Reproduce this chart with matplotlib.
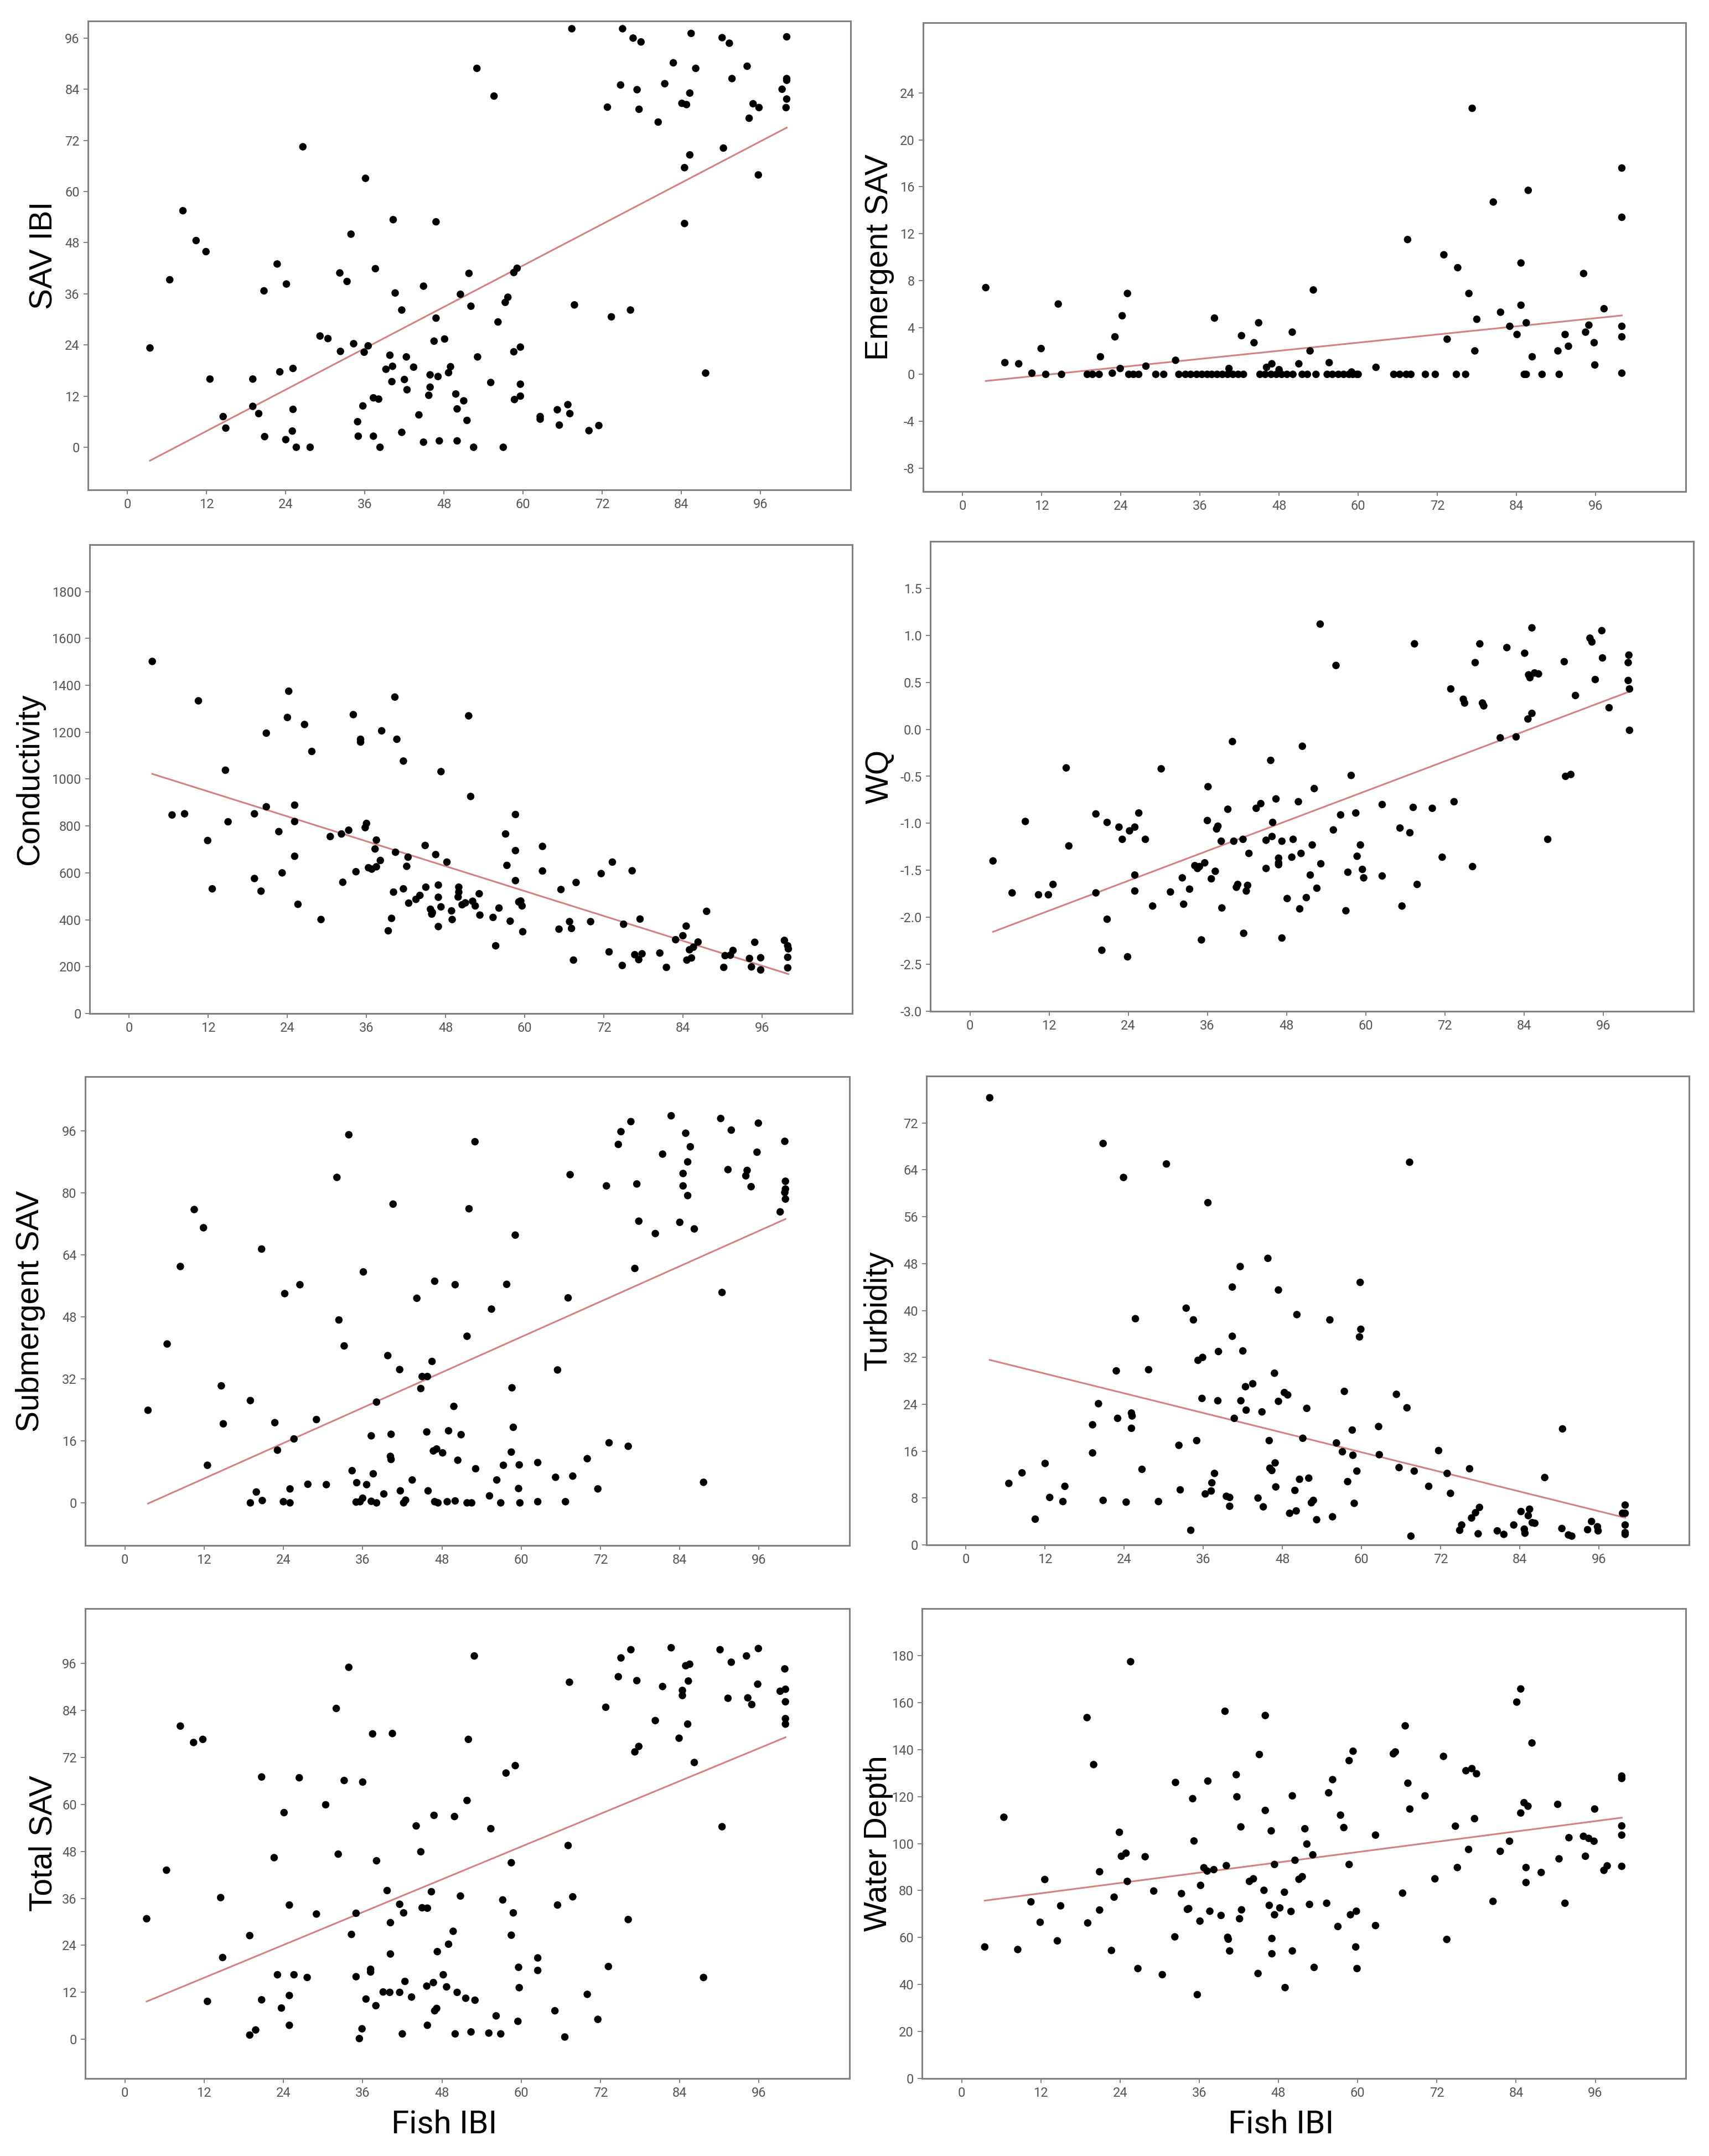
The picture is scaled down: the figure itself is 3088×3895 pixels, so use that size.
import numpy as np
import matplotlib
matplotlib.use("Agg")
import matplotlib.pyplot as plt
from matplotlib import font_manager

# ---- data (x = Fish IBI for every panel) ----
sav_ibi_x = [67.4, 75.1, 76.7, 77.9, 85.5, 90.2, 91.3, 100, 82.8, 86.2,
             94.0, 53.0, 91.7, 100, 100, 74.8, 81.5, 77.3, 85.3, 55.6,
             99.3, 100, 72.8, 77.6, 84.1, 84.8, 94.9, 95.8, 99.9, 80.5,
             94.3, 26.6, 90.4, 85.3, 84.5, 95.7, 36.1, 8.4, 40.3, 46.8,
             84.5, 33.9, 10.4, 11.9, 22.7, 32.2, 37.6, 51.8, 59.1, 58.6,
             6.4, 33.3, 24.1, 44.9, 20.7, 40.6, 50.5, 57.7, 57.3, 41.6,
             52.1, 67.8, 76.3, 73.4, 46.8, 56.2, 29.2, 30.4, 48.1, 46.5,
             34.3, 36.5, 59.6, 3.4, 32.3, 35.9, 58.6, 39.8, 42.3, 53.1,
             43.4, 40.2, 39.2, 25.1, 23.1, 49.0, 48.7, 45.9, 47.1, 87.7,
             12.5, 19.0, 42.0, 40.1, 55.1, 59.6, 45.9, 42.4, 45.7, 49.8,
             59.6, 58.7, 51.0, 37.3, 38.1, 35.7, 19.0, 25.1, 50.0, 66.8,
             65.2, 19.9, 67.1, 62.6, 62.6, 44.2, 14.5, 34.9, 51.5, 14.9,
             65.5, 71.5, 70.0, 25.0, 41.6, 20.8, 35.0, 37.3, 24.0, 44.9,
             47.3, 50.0, 25.6, 27.7, 38.3, 52.5, 57.0]
sav_ibi_y = [98.2, 98.2, 96, 95.1, 97.1, 96.1, 94.8, 96.3, 90.2, 88.9,
             89.4, 88.9, 86.5, 86.5, 86.1, 85.0, 85.3, 83.9, 83.1, 82.4,
             84.0, 81.7, 79.8, 79.3, 80.7, 80.4, 80.6, 79.7, 79.7, 76.3,
             77.2, 70.5, 70.2, 68.6, 65.6, 63.9, 63.1, 55.5, 53.4, 52.9,
             52.5, 50.0, 48.5, 45.9, 43.0, 40.9, 41.9, 40.8, 42.0, 41.0,
             39.3, 38.9, 38.3, 37.8, 36.7, 36.2, 35.9, 35.2, 34.0, 32.2,
             33.1, 33.4, 32.2, 30.6, 30.3, 29.4, 26.1, 25.5, 25.4, 24.9,
             24.3, 23.8, 23.5, 23.3, 22.5, 22.3, 22.4, 21.6, 21.2, 21.2,
             18.8, 19.0, 18.3, 18.5, 17.7, 18.9, 17.5, 17.0, 16.6, 17.4,
             16.0, 16.0, 15.9, 15.4, 15.2, 14.8, 14.1, 13.5, 12.2, 12.5,
             12.0, 11.2, 10.9, 11.6, 11.3, 9.7, 9.6, 8.9, 9.0, 10.0,
             8.8, 7.9, 7.9, 7.2, 6.6, 7.6, 7.2, 6.0, 6.3, 4.5,
             5.2, 5.1, 3.9, 3.8, 3.5, 2.5, 2.6, 2.6, 1.8, 1.2,
             1.5, 1.5, 0, 0, 0, 0, 0]

emergent_x = [3.5, 6.4, 8.5, 10.5, 11.9, 12.6, 14.5, 15.0, 18.9, 19.7,
              20.7, 20.9, 22.7, 23.1, 23.9, 24.2, 25.0, 25.2, 25.9, 26.7,
              27.8, 29.3, 30.5, 32.3, 32.8, 33.8, 34.6, 35.5, 36.3, 37.1,
              37.8, 38.6, 39.4, 40.2, 41.0, 41.8, 42.6, 38.2, 40.4, 42.3,
              44.2, 44.9, 45.1, 45.9, 46.8, 47.6, 48.4, 49.2, 50.1, 46.1,
              46.9, 48.0, 50.0, 51.0, 52.7, 53.2, 51.5, 52.3, 53.6, 55.6,
              55.3, 56.1, 57.0, 57.8, 58.6, 59.2, 59.8, 60.0, 59.0, 62.7,
              65.4, 66.3, 67.3, 68.0, 67.5, 70.2, 71.7, 73.0, 73.5, 74.9,
              76.3, 75.1, 76.8, 77.3, 77.7, 78.0, 80.5, 81.6, 83.0, 84.1,
              84.7, 84.7, 85.2, 85.5, 85.5, 85.8, 86.4, 87.9, 90.3, 90.5,
              91.4, 91.9, 94.2, 94.5, 95.0, 95.8, 95.9, 97.3, 100, 100,
              100, 100, 100]
emergent_y = [7.4, 1.0, 0.9, 0.1, 2.2, 0, 6.0, 0, 0, 0,
              0, 1.5, 0.1, 3.2, 0.5, 5.0, 6.9, 0, 0, 0,
              0.7, 0, 0, 1.2, 0, 0, 0, 0, 0, 0,
              0, 0, 0, 0, 0, 0, 0, 4.8, 0.5, 3.3,
              2.7, 4.4, 0, 0, 0, 0, 0, 0, 0, 0.6,
              0.9, 0.4, 3.6, 0.9, 2.0, 7.2, 0, 0, 0, 1.0,
              0, 0, 0, 0, 0, 0, 0, 0, 0.2, 0.6,
              0, 0, 0, 0, 11.5, 0, 0, 10.2, 3.0, 0,
              0, 9.1, 6.9, 22.7, 2.0, 4.7, 14.7, 5.3, 4.1, 3.4,
              9.5, 5.9, 0, 0, 4.4, 15.7, 1.5, 0, 2.0, 0,
              3.4, 2.4, 8.6, 3.6, 4.2, 2.7, 0.8, 5.6, 17.6, 13.4,
              4.1, 3.2, 0.1]

cond_x = [3.5, 6.5, 8.4, 10.5, 11.9, 12.6, 14.6, 15.0, 19.0, 19.0,
          20.0, 20.8, 20.8, 22.7, 23.2, 24.0, 24.2, 25.1, 25.1, 25.1,
          25.6, 26.6, 27.7, 29.1, 30.5, 32.2, 33.3, 32.4, 34.0, 34.4,
          35.1, 35.1, 35.8, 36.0, 36.3, 36.8, 37.5, 37.3, 37.5, 38.3,
          38.1, 39.3, 39.8, 40.1, 40.3, 40.4, 40.6, 41.6, 41.6, 42.1,
          42.3, 42.4, 43.5, 44.1, 44.9, 45.0, 45.7, 45.9, 46.0, 46.5,
          46.9, 46.9, 46.9, 47.3, 47.3, 48.2, 48.9, 49.0, 50.0, 50.0,
          49.9, 50.5, 51.0, 51.5, 51.8, 52.1, 52.5, 53.1, 53.2, 55.2,
          55.6, 56.1, 57.1, 57.3, 57.8, 58.6, 58.6, 58.6, 59.1, 59.4,
          59.6, 59.7, 62.7, 62.7, 65.2, 65.5, 66.8, 67.1, 67.4, 67.8,
          70.0, 71.6, 72.8, 73.3, 74.8, 75.0, 76.3, 76.7, 77.3, 77.5,
          77.8, 80.5, 81.5, 82.9, 84.0, 84.5, 84.6, 85.0, 85.3, 85.6,
          86.3, 87.6, 90.2, 90.4, 91.2, 91.6, 94.1, 94.4, 94.9, 95.8,
          95.8, 99.4, 99.9, 100, 99.9, 99.9]
cond_y = [1502, 847, 852, 1334, 738, 532, 1038, 818, 852, 576,
          522, 1196, 882, 776, 600, 1263, 1375, 889, 819, 671,
          466, 1233, 1118, 401, 755, 766, 782, 560, 1275, 605,
          1170, 1158, 793, 811, 622, 616, 740, 702, 626, 1206,
          653, 353, 406, 518, 1350, 688, 1170, 1077, 532, 628,
          667, 471, 487, 504, 717, 539, 445, 424, 431, 678,
          548, 496, 371, 455, 1032, 646, 438, 401, 539, 518,
          497, 464, 472, 1270, 926, 479, 459, 511, 420, 410,
          289, 450, 766, 632, 394, 849, 695, 567, 476, 480,
          459, 349, 713, 608, 360, 529, 392, 363, 228, 559,
          392, 597, 263, 646, 205, 381, 609, 251, 230, 403,
          255, 258, 197, 315, 332, 373, 228, 272, 237, 283,
          305, 436, 197, 247, 249, 269, 235, 199, 304, 238,
          186, 312, 289, 276, 240, 195]

wq_x = [3.5, 6.4, 8.4, 10.4, 11.9, 12.6, 14.6, 15.0, 19.1, 19.1,
        20.0, 20.8, 20.8, 22.6, 23.1, 23.9, 24.2, 25.0, 25.0, 25.0,
        25.6, 26.6, 27.7, 29.0, 30.4, 32.2, 32.4, 33.3, 34.1, 34.5,
        35.1, 34.8, 35.6, 36.0, 36.1, 36.6, 37.2, 37.4, 37.6, 38.2,
        38.1, 39.1, 39.8, 40.0, 40.4, 40.6, 41.4, 41.5, 41.9, 42.1,
        42.3, 43.4, 44.1, 44.9, 44.9, 45.6, 45.8, 45.9, 46.4, 46.8,
        46.8, 46.8, 47.3, 47.3, 48.1, 48.8, 49.0, 49.8, 50.0, 50.2,
        50.4, 51.0, 51.6, 51.9, 52.2, 52.6, 53.1, 53.2, 55.1, 55.5,
        56.2, 57.0, 57.3, 57.8, 58.5, 58.7, 59.2, 59.5, 59.7, 62.5,
        62.5, 65.2, 65.5, 66.7, 67.2, 67.4, 67.8, 70.1, 71.6, 72.9,
        73.4, 74.8, 75.0, 76.2, 76.6, 77.3, 77.7, 77.9, 80.4, 81.4,
        82.8, 84.1, 84.6, 84.7, 84.9, 85.2, 85.2, 85.6, 86.2, 87.6,
        90.1, 90.3, 91.1, 91.8, 94.0, 94.3, 94.8, 95.8, 95.9, 96.9,
        99.9, 99.8, 99.8, 100, 100]
wq_y = [-1.40, -1.74, -0.98, -1.76, -1.76, -1.65, -0.41, -1.24, -0.90, -1.74,
        -2.35, -0.99, -2.02, -1.04, -1.17, -2.42, -1.08, -1.04, -1.55, -1.72,
        -0.89, -1.17, -1.88, -0.42, -1.73, -1.58, -1.86, -1.70, -1.45, -1.48,
        -2.24, -1.46, -1.42, -0.97, -0.61, -1.59, -1.51, -1.06, -1.03, -1.90,
        -1.19, -0.85, -0.13, -1.19, -1.68, -1.65, -1.17, -2.17, -1.72, -1.66,
        -1.32, -0.84, -0.79, -1.18, -1.48, -0.33, -1.14, -0.99, -0.74, -1.37,
        -1.42, -1.44, -2.22, -1.19, -1.80, -1.36, -1.17, -0.77, -1.91, -1.32,
        -0.18, -1.79, -1.55, -1.23, -0.63, -1.69, 1.12, -1.43, -1.07, 0.68,
        -0.91, -1.93, -1.52, -0.49, -0.89, -1.35, -1.23, -1.49, -1.58, -0.80,
        -1.56, -1.05, -1.88, -1.10, -0.83, 0.91, -1.65, -0.84, -1.36, 0.43,
        -0.77, 0.32, 0.28, -1.46, 0.71, 0.91, 0.28, 0.25, -0.09, 0.87,
        -0.08, 0.81, 0.11, 0.58, 0.55, 0.17, 1.08, 0.60, 0.59, -1.17,
        0.72, -0.50, -0.48, 0.36, 0.97, 0.93, 0.53, 1.05, 0.76, 0.23,
        0.79, 0.71, 0.52, 0.43, -0.01]

subm_x = [3.5, 6.4, 8.4, 10.5, 11.9, 12.5, 14.6, 14.9, 19.0, 19.0,
          19.9, 20.7, 20.8, 22.7, 23.1, 24.0, 24.2, 25.0, 25.0, 25.6,
          26.5, 27.7, 29.0, 30.5, 32.1, 32.4, 33.2, 33.9, 34.4, 35.1,
          35.0, 35.6, 36.0, 36.1, 36.6, 37.3, 37.3, 37.6, 38.1, 38.1,
          39.2, 39.8, 40.2, 40.3, 40.3, 40.6, 41.6, 41.7, 42.2, 42.5,
          43.5, 44.2, 44.8, 45.0, 45.7, 45.8, 45.9, 46.5, 46.7, 46.9,
          46.9, 47.2, 47.4, 48.1, 48.8, 49.0, 49.8, 50.0, 50.0, 50.4,
          50.9, 51.8, 51.8, 52.1, 52.5, 53.0, 53.1, 55.2, 55.5, 56.3,
          56.9, 57.3, 57.8, 58.5, 58.6, 58.8, 59.1, 59.7, 59.6, 59.8,
          62.5, 62.5, 65.2, 65.5, 66.7, 67.1, 67.4, 67.8, 70.0, 71.6,
          72.9, 73.3, 74.7, 75.1, 76.2, 76.6, 77.2, 77.5, 77.8, 80.3,
          81.4, 82.7, 84.0, 84.5, 84.5, 84.9, 85.2, 85.2, 85.6, 86.2,
          87.6, 90.2, 90.4, 91.3, 91.8, 94.0, 94.2, 94.8, 95.7, 95.9,
          99.2, 99.9, 100, 100, 99.9, 100]
subm_y = [23.9, 41.0, 61.0, 75.7, 71.0, 9.7, 30.2, 20.4, 26.4, 0,
          2.8, 65.5, 0.6, 20.7, 13.6, 0.3, 54.0, 0, 3.6, 16.5,
          56.3, 4.8, 21.5, 4.7, 84.0, 47.2, 40.5, 95.0, 8.3, 5.2,
          0.2, 0.3, 1.2, 59.6, 4.7, 17.3, 0.4, 7.5, 26.0, 0,
          2.3, 38.0, 12.0, 11.2, 17.7, 77.1, 34.4, 3.1, 0, 0.7,
          5.9, 52.8, 29.5, 32.6, 18.3, 32.6, 3.1, 36.5, 13.4, 0.3,
          57.2, 13.9, 0, 12.9, 0.3, 18.6, 24.9, 56.3, 0.5, 11.0,
          17.6, 0, 43.0, 75.9, 0, 93.2, 8.8, 1.8, 50.0, 5.9,
          0, 9.7, 56.4, 13.1, 29.7, 19.5, 69.1, 9.8, 3.7, 0,
          10.4, 0.3, 6.6, 34.3, 0.3, 52.9, 84.7, 6.9, 11.4, 3.6,
          81.8, 15.5, 92.5, 95.8, 14.6, 98.4, 60.5, 82.3, 72.7, 69.5,
          90.0, 99.9, 72.4, 85.0, 81.8, 95.4, 79.3, 88.0, 91.9, 70.7,
          5.3, 99.2, 54.3, 86.0, 96.2, 84.4, 85.8, 81.6, 90.5, 98.0,
          75.1, 93.3, 83.0, 81.0, 80.1, 78.4]

turb_x = [3.6, 6.5, 8.5, 10.5, 12.0, 12.7, 14.7, 15.0, 19.2, 19.2,
          20.1, 20.8, 20.8, 23.0, 22.8, 23.9, 24.3, 25.1, 25.2, 25.1,
          25.7, 26.7, 27.7, 29.2, 30.4, 32.3, 32.5, 33.4, 34.1, 34.5,
          35.0, 35.2, 35.9, 35.8, 36.3, 36.7, 37.2, 37.3, 37.7, 38.3,
          38.2, 39.5, 40.0, 40.0, 40.4, 40.4, 40.7, 41.6, 41.7, 42.0,
          42.4, 42.5, 43.5, 44.3, 44.9, 45.1, 45.8, 46.0, 46.1, 46.4,
          46.8, 46.9, 47.0, 47.4, 47.4, 48.3, 48.8, 49.1, 49.9, 50.1,
          50.2, 50.6, 51.1, 51.7, 52.0, 52.4, 52.7, 53.2, 55.2, 55.6,
          56.2, 57.1, 57.4, 57.9, 58.6, 58.7, 58.9, 59.3, 59.8, 59.9,
          59.7, 62.6, 62.7, 65.3, 65.7, 66.9, 67.3, 67.5, 68.0, 70.2,
          71.7, 73.0, 73.5, 74.9, 75.2, 76.4, 76.7, 77.3, 77.7, 77.9,
          80.6, 81.6, 83.1, 84.2, 84.7, 84.8, 85.3, 85.5, 85.9, 86.3,
          87.8, 90.4, 90.5, 91.4, 91.9, 94.3, 94.9, 95.8, 95.9, 99.6,
          100, 100, 100, 100, 100]
turb_y = [76.3, 10.5, 12.3, 4.4, 13.9, 8.1, 7.4, 10.0, 15.7, 20.5,
          24.1, 68.5, 7.6, 21.6, 29.7, 62.7, 7.3, 22.5, 22.0, 19.9,
          38.6, 12.9, 29.9, 7.4, 65.0, 17.0, 9.4, 40.4, 2.5, 38.4,
          17.8, 31.5, 32.0, 25.0, 8.7, 58.4, 9.2, 10.6, 12.2, 33.0,
          24.6, 8.3, 8.1, 6.6, 44.0, 35.6, 21.6, 47.5, 24.6, 33.1,
          27.0, 23.0, 27.5, 8.0, 22.7, 6.5, 48.9, 17.8, 13.1, 12.7,
          29.3, 14.0, 9.9, 43.5, 24.5, 26.0, 25.6, 5.4, 9.3, 5.8,
          39.3, 11.2, 18.2, 23.3, 11.4, 7.2, 7.6, 4.3, 38.4, 4.8,
          17.4, 15.9, 26.2, 10.8, 19.6, 15.3, 7.1, 12.6, 44.8, 36.8,
          35.5, 20.2, 15.4, 25.7, 13.2, 23.4, 65.3, 1.5, 12.6, 10.0,
          16.1, 12.2, 8.8, 2.5, 3.4, 13.0, 4.6, 5.5, 1.9, 6.4,
          2.4, 1.8, 3.4, 5.7, 2.7, 2.0, 5.0, 6.1, 3.8, 3.7,
          11.5, 2.8, 19.8, 1.7, 1.5, 2.6, 4.0, 3.1, 2.4, 5.4,
          6.8, 5.4, 3.4, 1.8, 2.1]

total_x = [3.3, 6.3, 8.4, 10.4, 11.8, 12.5, 14.5, 14.8, 18.9, 18.9,
           19.8, 20.7, 20.7, 22.6, 23.1, 23.7, 24.1, 24.9, 24.9, 24.9,
           25.6, 26.4, 27.6, 29.0, 30.4, 32.0, 32.3, 33.2, 33.9, 34.3,
           35.0, 35.0, 35.5, 35.9, 36.0, 36.5, 37.2, 37.2, 37.5, 38.0,
           38.1, 39.1, 39.7, 40.1, 40.2, 40.2, 40.5, 41.6, 41.6, 42.0,
           42.2, 42.4, 43.4, 44.1, 44.8, 45.0, 45.7, 45.8, 45.8, 46.4,
           46.7, 46.8, 46.9, 47.2, 47.3, 48.2, 48.7, 49.0, 49.7, 49.9,
           50.0, 50.3, 50.8, 51.6, 51.8, 52.0, 52.4, 52.9, 53.0, 55.1,
           55.4, 56.2, 56.9, 57.2, 57.7, 58.5, 58.5, 58.8, 59.1, 59.5,
           59.6, 59.7, 62.5, 62.5, 65.1, 65.5, 66.6, 67.1, 67.3, 67.8,
           70.0, 71.6, 72.8, 73.2, 74.7, 75.1, 76.2, 76.6, 77.2, 77.5,
           77.8, 80.3, 81.4, 82.7, 83.9, 84.4, 84.4, 84.9, 85.2, 85.3,
           85.5, 86.2, 87.6, 90.1, 90.4, 91.3, 91.8, 94.1, 94.3, 94.9,
           95.8, 95.9, 99.2, 99.9, 100, 100, 100, 100]
total_y = [30.8, 43.2, 80.0, 75.8, 76.6, 9.7, 36.2, 20.9, 26.5, 1.1,
           2.4, 67.0, 10.1, 46.4, 16.5, 8.0, 57.9, 34.3, 11.2, 3.6,
           16.5, 66.8, 15.8, 32.0, 59.9, 84.5, 47.3, 66.1, 95.0, 26.8,
           16.0, 32.2, 0.2, 2.7, 65.7, 10.3, 17.9, 17.2, 78.0, 8.6,
           45.6, 12.1, 38.0, 12.0, 29.8, 21.8, 78.1, 34.5, 12.0, 1.4,
           32.3, 14.8, 10.8, 54.5, 47.9, 33.6, 13.6, 33.5, 3.6, 37.7,
           14.5, 57.2, 7.3, 7.9, 22.4, 16.5, 13.4, 24.3, 27.6, 56.9,
           1.4, 12.0, 36.6, 10.5, 61.0, 76.6, 1.9, 97.9, 10.0, 1.6,
           53.8, 6.0, 1.4, 35.6, 68.0, 45.1, 26.6, 32.3, 69.9, 4.6,
           18.4, 13.2, 20.8, 17.6, 7.3, 34.3, 0.6, 49.5, 91.2, 36.4,
           11.5, 5.1, 84.8, 18.6, 92.6, 97.4, 30.6, 99.5, 73.4, 91.6,
           74.8, 81.4, 90.1, 100.0, 76.9, 89.1, 87.8, 95.4, 80.5, 91.5,
           95.8, 70.7, 15.8, 99.5, 54.3, 87.1, 96.3, 97.9, 87.2, 85.5,
           90.7, 99.8, 88.9, 94.6, 89.4, 86.2, 81.9, 80.5]

depth_x = [3.5, 6.4, 8.5, 10.5, 11.9, 12.6, 14.5, 15.0, 19.0, 19.1,
           20.0, 20.9, 20.9, 22.7, 23.1, 23.9, 24.2, 24.9, 25.1, 25.6,
           26.7, 27.8, 29.1, 30.4, 32.3, 32.4, 33.3, 34.2, 34.4, 35.0,
           35.2, 35.7, 36.1, 36.2, 36.7, 37.2, 37.3, 37.6, 38.2, 39.3,
           39.9, 40.1, 40.3, 40.4, 40.6, 41.6, 41.7, 42.1, 42.3, 42.4,
           43.6, 44.2, 44.9, 45.1, 45.8, 46.0, 46.0, 46.6, 46.9, 47.0,
           47.0, 47.4, 47.4, 48.2, 48.9, 49.0, 49.9, 50.1, 50.1, 50.5,
           51.1, 51.6, 52.0, 52.3, 52.7, 53.2, 53.4, 55.3, 55.6, 56.2,
           57.0, 57.4, 57.9, 58.7, 58.7, 58.9, 59.3, 59.8, 59.7, 59.9,
           62.7, 62.7, 65.4, 65.7, 66.8, 67.2, 67.6, 67.9, 70.2, 71.7,
           73.0, 73.5, 74.8, 75.1, 76.4, 76.8, 77.3, 77.7, 78.0, 80.5,
           81.6, 83.0, 84.1, 84.7, 84.7, 85.2, 85.5, 85.5, 85.8, 86.4,
           87.8, 90.3, 90.5, 91.4, 92.0, 94.2, 94.5, 95.0, 95.8, 95.9,
           97.3, 97.8, 100, 100, 100, 100, 100]
depth_y = [56.0, 111.2, 54.9, 75.2, 66.5, 84.7, 58.6, 73.5, 153.6, 66.2,
           133.6, 88.0, 71.7, 54.5, 77.2, 104.8, 94.6, 95.9, 83.9, 177.4,
           46.8, 94.4, 79.8, 44.2, 60.3, 126.0, 78.7, 72.0, 72.3, 119.1,
           101.1, 35.7, 67.0, 82.2, 89.7, 88.3, 126.6, 71.2, 88.9, 69.4,
           156.3, 90.6, 60.1, 59.3, 54.3, 129.3, 119.9, 68.0, 107.1, 71.8,
           83.9, 85.0, 44.7, 137.9, 80.1, 154.5, 114.1, 73.7, 105.4, 59.6,
           53.1, 91.1, 69.7, 72.6, 79.3, 38.7, 71.1, 120.3, 54.3, 92.9,
           84.8, 85.9, 106.3, 99.8, 74.1, 95.2, 47.3, 74.6, 121.6, 127.2,
           64.7, 112.1, 106.8, 135.3, 91.1, 69.7, 139.3, 71.2, 56.0, 46.8,
           103.6, 65.1, 138.2, 139.0, 78.9, 150.1, 125.7, 114.7, 120.3, 85.0,
           137.1, 59.2, 107.4, 89.8, 131.0, 97.5, 131.9, 110.6, 129.7, 75.4,
           96.7, 101.0, 160.2, 165.8, 113.0, 117.4, 89.8, 83.4, 115.9, 142.8,
           87.7, 116.7, 93.5, 74.6, 102.5, 103.1, 94.6, 102.2, 101.0, 114.7,
           88.6, 90.5, 128.7, 127.7, 107.5, 103.6, 90.3]

x_ticks = [0, 12, 24, 36, 48, 60, 72, 84, 96]

# ---- fonts ----
plt.rcParams['axes.unicode_minus'] = False
_names = {f.name for f in font_manager.fontManager.ttflist}
narrow = 'Liberation Sans Narrow' if 'Liberation Sans Narrow' in _names else 'Roboto'
label_font = 'Liberation Sans'

W, H = 3088, 3895
fig = plt.figure(figsize=(W / 100, H / 100), dpi=100)
fig.patch.set_facecolor('white')

# frame edges in pixels: left, right, top, bottom
panels = [
    (159, 1537, 38, 885, sav_ibi_x, sav_ibi_y, 'SAV IBI', (-10, 100), np.arange(0, 97, 12), -0.058, False),
    (1668, 3046, 41, 888, emergent_x, emergent_y, 'Emergent SAV', (-10, 30), np.arange(-8, 25, 4), -0.057, False),
    (162, 1540, 984, 1831, cond_x, cond_y, 'Conductivity', (0, 2000), np.arange(0, 1801, 200), -0.078, False),
    (1681, 3060, 978, 1827, wq_x, wq_y, 'WQ', (-3.0, 2.0), np.arange(-3.0, 1.51, 0.5), -0.066, False),
    (154, 1535, 1945, 2792, subm_x, subm_y, 'Submergent SAV', (-11, 110), np.arange(0, 97, 16), -0.072, False),
    (1674, 3052, 1944, 2791, turb_x, turb_y, 'Turbidity', (0, 80), np.arange(0, 73, 8), -0.063, False),
    (154, 1535, 2906, 3755, total_x, total_y, 'Total SAV', (-10, 110), np.arange(0, 97, 12), -0.055, True),
    (1666, 3046, 2906, 3755, depth_x, depth_y, 'Water Depth', (0, 200), np.arange(0, 181, 20), -0.057, True),
]

for (l, r, t, b, xs, ys, ylab, ylim, yticks, labx, show_xlabel) in panels:
    ax = fig.add_axes([l / W, 1 - b / H, (r - l) / W, (b - t) / H])
    xs = np.array(xs)
    ys = np.array(ys)
    ax.scatter(xs, ys, s=95, color='black', edgecolors='none', zorder=3)

    # least-squares line over the data range
    slope, icpt = np.polyfit(xs, ys, 1)
    xl = np.array([xs.min(), xs.max()])
    ax.plot(xl, slope * xl + icpt, color='#d4817f', lw=2.2, zorder=2)

    ax.set_xlim(-6, 109.7)
    ax.set_ylim(*ylim)
    ax.set_xticks(x_ticks)
    ax.set_yticks(yticks)
    if ylab == 'WQ':
        ax.set_yticklabels([f'{v:.1f}' for v in yticks])
    else:
        ax.set_yticklabels([f'{v:g}' for v in yticks])

    for sp in ax.spines.values():
        sp.set_color('#808080')
        sp.set_linewidth(2.2)
    ax.tick_params(direction='out', length=6, width=1.4, color='#808080',
                   labelcolor='#555555', labelsize=17, pad=5)
    for lbl in ax.get_xticklabels() + ax.get_yticklabels():
        lbl.set_fontfamily(narrow)

    ax.set_ylabel(ylab, fontsize=41, family=label_font, color='black', va='center')
    ax.yaxis.set_label_coords(labx, 0.5)
    if show_xlabel:
        ax.set_xlabel('Fish IBI', fontsize=42, family=narrow, color='black', va='center')
        ax.xaxis.set_label_coords(0.47, -0.098)

fig.savefig('out.png', dpi=100, facecolor='white')
